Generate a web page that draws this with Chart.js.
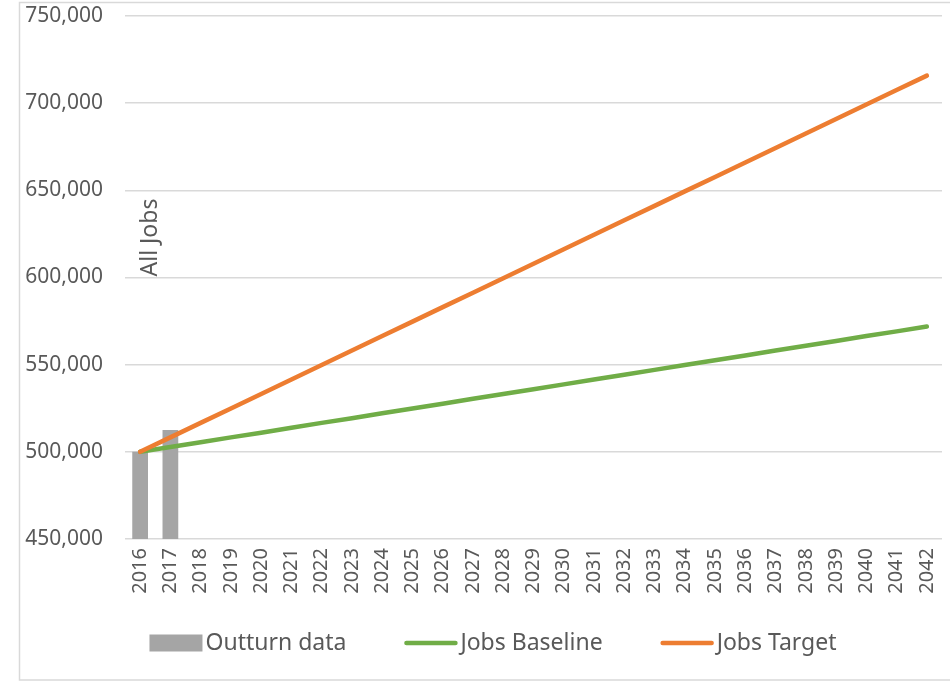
<!DOCTYPE html>
<html>
<head>
<meta charset="utf-8">
<script src="https://cdn.jsdelivr.net/npm/chart.js@4.4.1/dist/chart.umd.min.js"></script>
<style>
	html, body { margin: 0; padding: 0; background: #fff; }
	.chart-wrap { position: relative; width: 950px; height: 681px; }
</style>
</head>
<body>
<div class="chart-wrap"><canvas id="chart"></canvas></div>
<script>
'use strict'

const years = [
	'2016', '2017', '2018', '2019', '2020', '2021', '2022', '2023', '2024',
	'2025', '2026', '2027', '2028', '2029', '2030', '2031', '2032', '2033',
	'2034', '2035', '2036', '2037', '2038', '2039', '2040', '2041', '2042',
]

const outturnData = [500000, 512500]

const jobsBaseline = [
	500000, 502800, 505500, 508300, 511000, 513800, 516600, 519300, 522100,
	524900, 527600, 530400, 533200, 535900, 538700, 541500, 544200, 547000,
	549800, 552500, 555300, 558100, 560800, 563600, 566400, 569100, 571900,
]

const jobsTarget = [
	500000, 508300, 516600, 524900, 533200, 541500, 549800, 558100, 566400,
	574700, 583000, 591300, 599600, 607900, 616200, 624500, 632800, 641100,
	649400, 657700, 666000, 674300, 682600, 690900, 699200, 707500, 715800,
]

const yMin = 450000
const yMax = 750000
const yStep = 50000
const yTitle = 'All Jobs'

const textColor = '#595959'
const gridColor = '#d9d9d9'
const fontFamily = "'Noto Sans', 'Open Sans', sans-serif"

// outer frame round the whole chart
const framePlugin = {
	id: 'frame',
	beforeDraw(chart) {
		const ctx = chart.ctx
		ctx.save()
		ctx.strokeStyle = gridColor
		ctx.lineWidth = 1.5
		ctx.strokeRect(19.5, 2.5, chart.width, chart.height - 3.5)
		ctx.restore()
	},
}

// the axis title sits inside the plot, next to the first bars
const titlePlugin = {
	id: 'insideTitle',
	afterDraw(chart) {
		const ctx = chart.ctx
		const y = chart.scales.y.getPixelForValue(600000)
		const x = chart.scales.x.getPixelForValue(0)
		ctx.save()
		ctx.translate(x + 10, y - 1)
		ctx.rotate(-Math.PI / 2)
		ctx.font = `23px ${fontFamily}`
		ctx.fillStyle = textColor
		ctx.textAlign = 'left'
		ctx.textBaseline = 'middle'
		ctx.fillText(yTitle, 0, 0)
		ctx.restore()
	},
}

// legend drawn by hand so the spacing looks like the office one
const legendPlugin = {
	id: 'officeLegend',
	afterDraw(chart) {
		const ctx = chart.ctx
		const symW = 53
		const gap = 3
		const spacing = 58
		const y = 643
		ctx.save()
		ctx.font = `23px ${fontFamily}`
		const items = chart.data.datasets.map(ds => ({
			ds,
			w: symW + gap + ctx.measureText(ds.label).width,
		}))
		const total = items.reduce((s, it) => s + it.w, 0) + spacing * (items.length - 1)
		let x = chart.width / 2 + 18 - total / 2
		items.forEach(({ ds, w }) => {
			if (ds.type === 'bar') {
				ctx.fillStyle = ds.backgroundColor
				ctx.fillRect(x, y - 8.5, symW, 17)
			} else {
				ctx.strokeStyle = ds.borderColor
				ctx.lineWidth = ds.borderWidth
				ctx.lineCap = 'round'
				ctx.beginPath()
				ctx.moveTo(x + 2, y)
				ctx.lineTo(x + symW - 2, y)
				ctx.stroke()
			}
			ctx.fillStyle = textColor
			ctx.textAlign = 'left'
			ctx.textBaseline = 'middle'
			ctx.fillText(ds.label, x + symW + gap, y)
			x += w + spacing
		})
		ctx.restore()
	},
}

const ctx = document.getElementById('chart')

new Chart(ctx, {
	data: {
		labels: years,
		datasets: [
			{
				type: 'bar',
				label: 'Outturn data',
				data: outturnData,
				backgroundColor: '#a5a5a5',
				borderWidth: 0,
				barPercentage: 0.52,
				categoryPercentage: 1,
				order: 3,
			},
			{
				type: 'line',
				label: 'Jobs Baseline',
				data: jobsBaseline,
				borderColor: '#70ad47',
				backgroundColor: '#70ad47',
				borderWidth: 4.5,
				borderCapStyle: 'round',
				pointRadius: 0,
				tension: 0,
				order: 2,
			},
			{
				type: 'line',
				label: 'Jobs Target',
				data: jobsTarget,
				borderColor: '#ed7d31',
				backgroundColor: '#ed7d31',
				borderWidth: 4.5,
				borderCapStyle: 'round',
				pointRadius: 0,
				tension: 0,
				order: 1,
			},
		],
	},
	options: {
		responsive: true,
		maintainAspectRatio: false,
		animation: false,
		layout: {
			padding: { left: 20, right: 8, top: 16, bottom: 72 },
		},
		plugins: {
			tooltip: { enabled: false },
			legend: { display: false },
		},
		scales: {
			x: {
				grid: { display: false, drawTicks: false },
				border: { display: false },
				ticks: {
					color: textColor,
					font: { family: fontFamily, size: 20 },
					maxRotation: 90,
					minRotation: 90,
					autoSkip: false,
					padding: 9,
				},
				afterFit(scale) {
					scale.height = 70
					scale.paddingLeft = 0
					scale.paddingRight = 0
				},
			},
			y: {
				min: yMin,
				max: yMax,
				grid: { color: gridColor, lineWidth: 1.5, drawTicks: false },
				border: { display: false },
				ticks: {
					stepSize: yStep,
					color: textColor,
					font: { family: fontFamily, size: 21 },
					padding: 22,
					callback: value => value.toLocaleString('en-US'),
				},
				afterFit(scale) {
					scale.width = 105
					scale.paddingTop = 0
					scale.paddingBottom = 0
				},
			},
		},
	},
	plugins: [framePlugin, titlePlugin, legendPlugin],
})
</script>
</body>
</html>
